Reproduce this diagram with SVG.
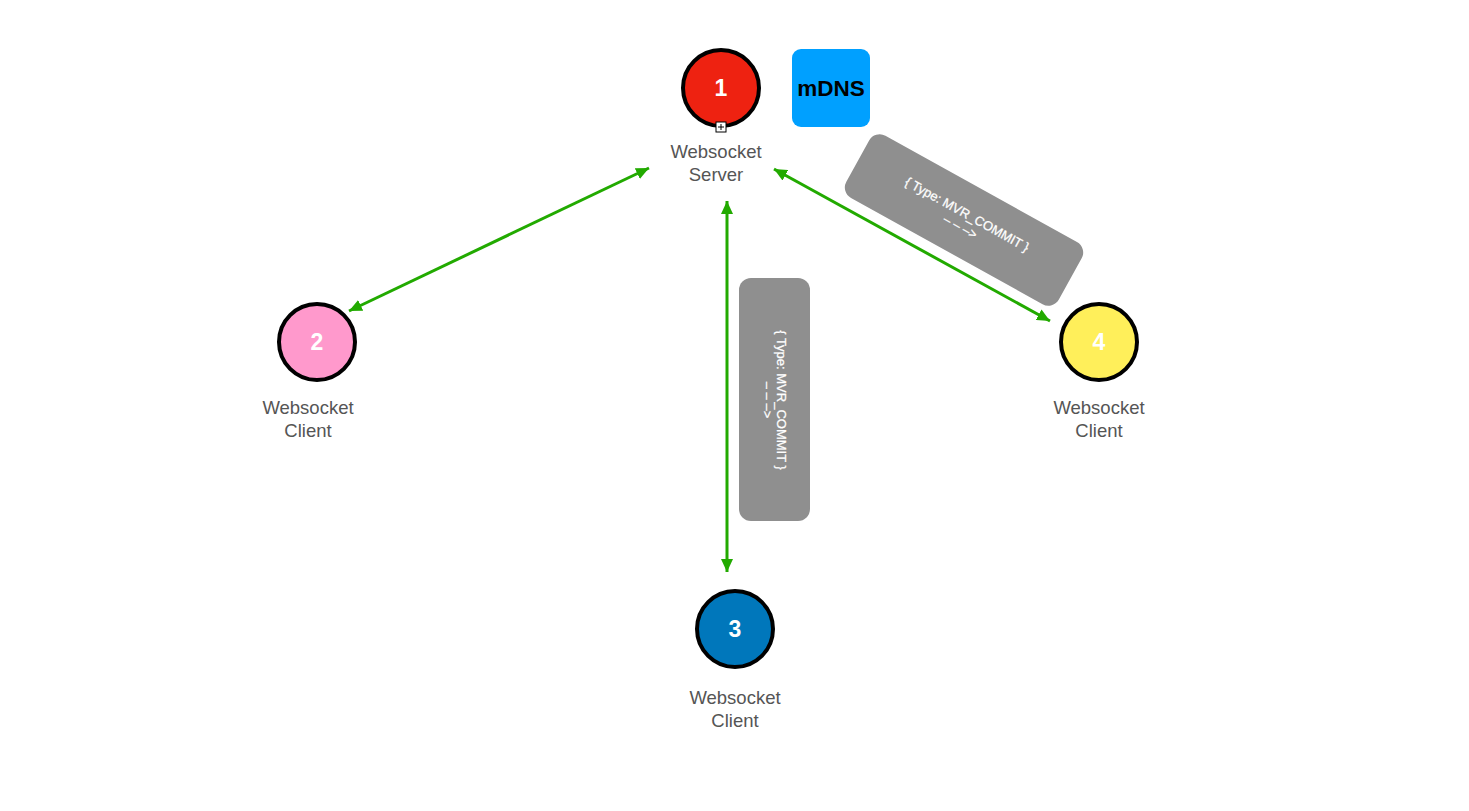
<svg xmlns="http://www.w3.org/2000/svg" width="1469" height="811" viewBox="0 0 1469 811">
  <defs>
    <marker id="arrow" viewBox="0 0 13 12" markerWidth="13" markerHeight="12" refX="13" refY="6" markerUnits="userSpaceOnUse" orient="auto-start-reverse">
      <path d="M0,0 L13,6 L0,12 z" fill="#22AA00"/>
    </marker>
    <style>
      .node { stroke: #000; stroke-width: 4; }
      .num { font-family: "Liberation Sans", Arial, sans-serif; font-size: 23px; font-weight: bold; fill: #fff; text-anchor: middle; }
      .cap { font-family: "Liberation Sans", Arial, sans-serif; font-size: 18.5px; fill: #555; text-anchor: middle; }
      .link { stroke: #22AA00; stroke-width: 3; fill: none; marker-start: url(#arrow); marker-end: url(#arrow); }
      .tag { fill: #8F8F8F; }
      .tagtext { font-family: "Liberation Sans", Arial, sans-serif; font-size: 13px; fill: #fff; stroke: #fff; stroke-width: 0.25; text-anchor: middle; }
    </style>
  </defs>
  <rect width="1469" height="811" fill="#fff"/>

  <!-- connectors -->
  <g id="connectors">
    <path class="link" d="M649,168 L349,311"/>
    <path class="link" d="M727,201 L727,572"/>
    <path class="link" d="M774,169 L1050,321"/>
  </g>

  <!-- message labels -->
  <g id="label-vertical">
    <rect class="tag" x="739" y="278" width="71" height="243" rx="12"/>
    <g transform="translate(775,400) rotate(90)">
      <text class="tagtext" x="0" y="-2">{ Type: MVR_COMMIT }</text>
      <text class="tagtext" x="0" y="12">– – –&gt;</text>
    </g>
  </g>
  <g id="label-diagonal">
    <g transform="translate(964,220) rotate(29)">
      <rect class="tag" x="-121.5" y="-35.5" width="243" height="71" rx="12"/>
      <text class="tagtext" x="0" y="-2">{ Type: MVR_COMMIT }</text>
      <text class="tagtext" x="0" y="12">– – –&gt;</text>
    </g>
  </g>

  <!-- server -->
  <g id="node-1">
    <circle class="node" cx="721" cy="88" r="38" fill="#EE2211"/>
    <text class="num" x="721" y="96">1</text>
    <rect x="716" y="122" width="10" height="10" fill="#fff" stroke="#000" stroke-width="1"/>
    <path d="M718,127 H724 M721,124 V130" stroke="#000" stroke-width="1"/>
    <text class="cap" x="716" y="158">Websocket</text>
    <text class="cap" x="716" y="181">Server</text>
  </g>

  <g id="mdns">
    <rect x="792" y="49" width="78" height="78" rx="9" fill="#00A0FF"/>
    <text x="831" y="96" text-anchor="middle" font-family="'Liberation Sans', Arial, sans-serif" font-size="22.5" font-weight="bold" fill="#000">mDNS</text>
  </g>

  <!-- clients -->
  <g id="node-2">
    <circle class="node" cx="317" cy="342" r="38" fill="#FF99CC"/>
    <text class="num" x="317" y="350">2</text>
    <text class="cap" x="308" y="414">Websocket</text>
    <text class="cap" x="308" y="437">Client</text>
  </g>

  <g id="node-3">
    <circle class="node" cx="735" cy="629" r="38" fill="#0077BB"/>
    <text class="num" x="735" y="637">3</text>
    <text class="cap" x="735" y="704">Websocket</text>
    <text class="cap" x="735" y="727">Client</text>
  </g>

  <g id="node-4">
    <circle class="node" cx="1099" cy="342" r="38" fill="#FFEF5A"/>
    <text class="num" x="1099" y="350">4</text>
    <text class="cap" x="1099" y="414">Websocket</text>
    <text class="cap" x="1099" y="437">Client</text>
  </g>
</svg>
